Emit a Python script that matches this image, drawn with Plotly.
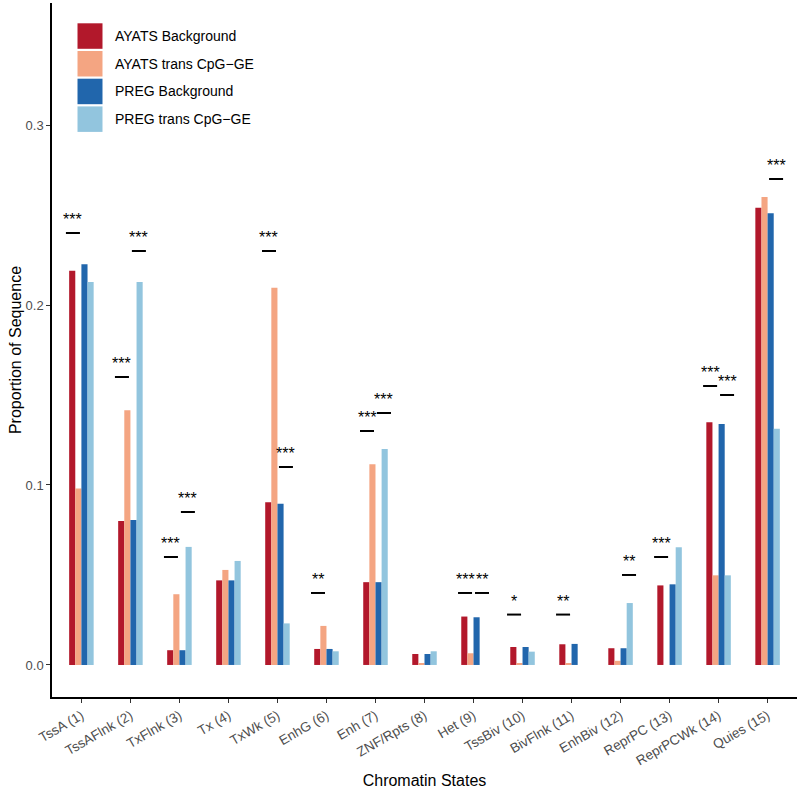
import plotly.graph_objects as go

categories = ["TssA (1)", "TssAFlnk (2)", "TxFlnk (3)", "Tx (4)", "TxWk (5)", "EnhG (6)",
              "Enh (7)", "ZNF/Rpts (8)", "Het (9)", "TssBiv (10)", "BivFlnk (11)",
              "EnhBiv (12)", "ReprPC (13)", "ReprPCWk (14)", "Quies (15)"]

ayats_bg = [0.219, 0.080, 0.0082, 0.047, 0.0904, 0.0089, 0.046, 0.0061, 0.0269, 0.0100, 0.0115, 0.0093, 0.0442, 0.1348, 0.254]
ayats_ge = [0.098, 0.1415, 0.0393, 0.0528, 0.2096, 0.0217, 0.1115, 0.0008, 0.0065, 0.0008, 0.0008, 0.0023, 0.0, 0.0498, 0.260]
preg_bg = [0.2226, 0.0806, 0.0082, 0.047, 0.0896, 0.0089, 0.046, 0.0061, 0.0265, 0.0100, 0.0117, 0.0093, 0.0448, 0.1339, 0.251]
preg_ge = [0.2128, 0.2128, 0.0656, 0.0578, 0.0231, 0.0076, 0.120, 0.0076, 0.0, 0.0074, 0.0, 0.0344, 0.0654, 0.0498, 0.1313]

series_names = ["AYATS Background", "AYATS trans CpG\u2212GE", "PREG Background", "PREG trans CpG\u2212GE"]
series_colors = ["#B2182B", "#F4A582", "#2166AC", "#92C5DE"]

# significance marks: category index, comparison group, stars, bracket height
sig_cat = [0, 1, 1, 2, 2, 4, 4, 5, 6, 6, 8, 8, 9, 10, 11, 12, 13, 13, 14]
sig_grp = ["AYATS", "AYATS", "PREG", "AYATS", "PREG", "AYATS", "PREG", "AYATS", "AYATS", "PREG",
           "AYATS", "PREG", "AYATS", "AYATS", "PREG", "AYATS", "AYATS", "PREG", "PREG"]
sig_txt = ["***", "***", "***", "***", "***", "***", "***", "**", "***", "***",
           "***", "**", "*", "**", "**", "***", "***", "***", "***"]
sig_y = [0.24, 0.16, 0.23, 0.06, 0.085, 0.23, 0.11, 0.04, 0.13, 0.14,
         0.04, 0.04, 0.028, 0.028, 0.05, 0.06, 0.155, 0.15, 0.27]

FONT = "Liberation Sans, Arial, Helvetica, sans-serif"

fig = go.Figure()
for name, vals, col in zip(series_names, [ayats_bg, ayats_ge, preg_bg, preg_ge], series_colors):
    fig.add_trace(go.Bar(x=categories, y=vals, name=name, marker_color=col,
                         marker_line_width=0, showlegend=False))

grp_off = {"AYATS": -0.173, "PREG": 0.173}
half = 0.143
for c, g, t, yv in zip(sig_cat, sig_grp, sig_txt, sig_y):
    xc = c + grp_off[g]
    fig.add_shape(type="line", xref="x", yref="y", x0=xc - half, x1=xc + half, y0=yv, y1=yv,
                  line=dict(color="black", width=2))
    fig.add_annotation(x=xc, y=yv, xref="x", yref="y", text=t, showarrow=False,
                       yanchor="bottom", yshift=3, font=dict(family=FONT, size=16, color="black"))

# legend drawn as keys + labels (paper coordinates)
L, R, T, B = 52, 797, 3, 697
W, H = R - L, B - T
key_tops = [23.3, 51.0, 78.7, 106.4]
for name, col, kt in zip(series_names, series_colors, key_tops):
    fig.add_shape(type="rect", xref="paper", yref="paper",
                  x0=(77.5 - L) / W, x1=(102.5 - L) / W,
                  y0=(B - (kt + 25.5)) / H, y1=(B - kt) / H,
                  fillcolor=col, line=dict(width=0))
    fig.add_annotation(xref="paper", yref="paper", x=(112.5 - L) / W, y=(B - (kt + 12.8)) / H,
                       text=name, showarrow=False, xanchor="left", yanchor="middle",
                       font=dict(family=FONT, size=14, color="black"))

fig.update_layout(
    width=800, height=799,
    margin=dict(l=L, r=800 - R, t=T, b=799 - B),
    plot_bgcolor="white", paper_bgcolor="white",
    barmode="group", bargap=0.5, bargroupgap=0,
    font=dict(family=FONT),
    showlegend=False,
)
fig.update_xaxes(
    range=[-0.6, 14.6], showgrid=False, zeroline=False, automargin=False,
    showline=True, linecolor="black", linewidth=1.5,
    ticks="outside", ticklen=4, tickcolor="#333333", tickwidth=1,
    tickangle=-30, tickfont=dict(family=FONT, size=13.5, color="#4D4D4D"),
    title=dict(text="Chromatin States", font=dict(family=FONT, size=16, color="black"), standoff=8),
)
fig.update_yaxes(
    range=[-0.0178, 0.3678], showgrid=False, zeroline=False, automargin=False,
    showline=True, linecolor="black", linewidth=1.5,
    ticks="outside", ticklen=4, tickcolor="#333333", tickwidth=1,
    tickvals=[0, 0.1, 0.2, 0.3], ticktext=["0.0", "0.1", "0.2", "0.3"],
    tickfont=dict(family=FONT, size=13, color="#4D4D4D"),
    title=dict(text="Proportion of Sequence", font=dict(family=FONT, size=16, color="black"), standoff=0),
)

fig.write_html("out.html", config={"displayModeBar": False},
               post_script="document.body.style.margin='0';")
